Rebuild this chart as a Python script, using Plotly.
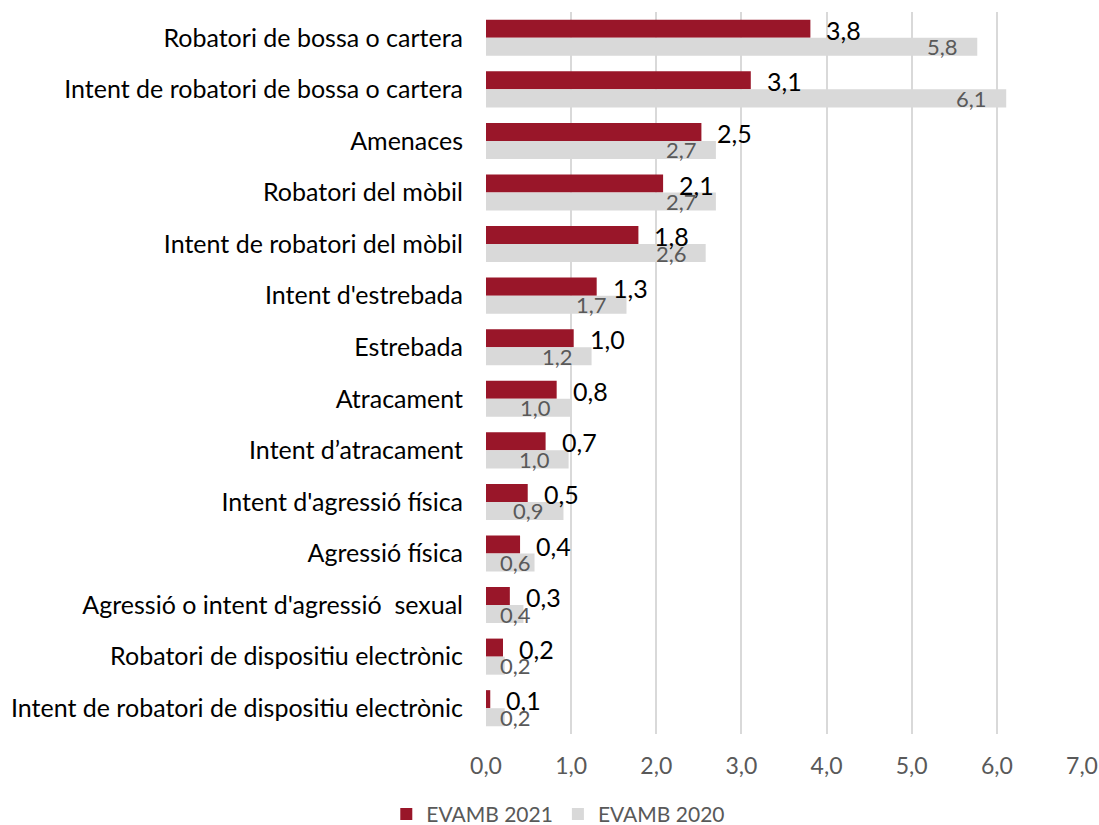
import plotly.graph_objects as go

categories = [
    "Robatori de bossa o cartera",
    "Intent de robatori de bossa o cartera",
    "Amenaces",
    "Robatori del mòbil",
    "Intent de robatori del mòbil",
    "Intent d'estrebada",
    "Estrebada",
    "Atracament",
    "Intent d’atracament",
    "Intent d'agressió física",
    "Agressió física",
    "Agressió o intent d'agressió  sexual",
    "Robatori de dispositiu electrònic",
    "Intent de robatori de dispositiu electrònic",
]
values_2021 = [3.81, 3.11, 2.53, 2.08, 1.79, 1.30, 1.03, 0.83, 0.70, 0.49, 0.40, 0.28, 0.20, 0.05]
values_2020 = [5.77, 6.11, 2.70, 2.70, 2.58, 1.65, 1.24, 0.99, 0.97, 0.91, 0.57, 0.44, 0.22, 0.22]
labels_2021 = ["3,8", "3,1", "2,5", "2,1", "1,8", "1,3", "1,0", "0,8", "0,7", "0,5", "0,4", "0,3", "0,2", "0,1"]
labels_2020 = ["5,8", "6,1", "2,7", "2,7", "2,6", "1,7", "1,2", "1,0", "1,0", "0,9", "0,6", "0,4", "0,2", "0,2"]
tick_vals = [0, 1, 2, 3, 4, 5, 6, 7]
tick_text = ["0,0", "1,0", "2,0", "3,0", "4,0", "5,0", "6,0", "7,0"]

RED = "#991629"
GRAY = "#D9D9D9"
FONT = "Lato, 'Open Sans', sans-serif"

fig = go.Figure()
fig.add_trace(go.Bar(y=categories, x=values_2021, orientation="h", name="EVAMB 2021",
                     marker=dict(color=RED, line=dict(width=0)), hoverinfo="x+y"))
fig.add_trace(go.Bar(y=categories, x=values_2020, orientation="h", name="EVAMB 2020",
                     marker=dict(color=GRAY, line=dict(width=0)), hoverinfo="x+y"))

annotations = []
for c, v, t in zip(categories, values_2021, labels_2021):
    annotations.append(dict(x=v, y=c, xref="x", yref="y", text=t, showarrow=False,
                            xanchor="left", yanchor="middle", xshift=14, yshift=8,
                            font=dict(family=FONT, size=25, color="#000000")))
min_x = 0.75
for c, v, t in zip(categories, values_2020, labels_2020):
    annotations.append(dict(x=max(v, min_x), y=c, xref="x", yref="y", text=t, showarrow=False,
                            xanchor="right", yanchor="middle", xshift=-17, yshift=-9,
                            font=dict(family=FONT, size=22, color="#595959")))

fig.update_layout(
    width=1099, height=825,
    margin=dict(l=486, r=17, t=12, b=91, autoexpand=False),
    paper_bgcolor="white", plot_bgcolor="white",
    barmode="group", bargap=0.3, bargroupgap=0,
    font=dict(family=FONT, color="#262626"),
    showlegend=True,
    legend=dict(orientation="h", xref="container", yref="container", x=0.508, y=0.013,
                xanchor="center", yanchor="middle", traceorder="normal",
                font=dict(family=FONT, size=21, color="#595959"),
                itemwidth=30, itemsizing="constant", tracegroupgap=0),
    annotations=annotations,
    xaxis=dict(range=[0, 7], tickvals=tick_vals, ticktext=tick_text, showgrid=True,
               gridcolor="#D9D9D9", gridwidth=1.5, zeroline=False, showline=False,
               ticks="", tickfont=dict(family=FONT, size=23, color="#595959"),
               ticklabelstandoff=16, automargin=False, fixedrange=True),
    yaxis=dict(autorange="reversed", showgrid=False, zeroline=False, showline=False,
               ticks="", tickfont=dict(family=FONT, size=25, color="#000000"),
               ticklabelstandoff=22, automargin=False, fixedrange=True),
)

fig.write_html("out.html", config={"displayModeBar": False},
               post_script="document.body.style.margin='0';document.body.style.overflow='hidden';")
